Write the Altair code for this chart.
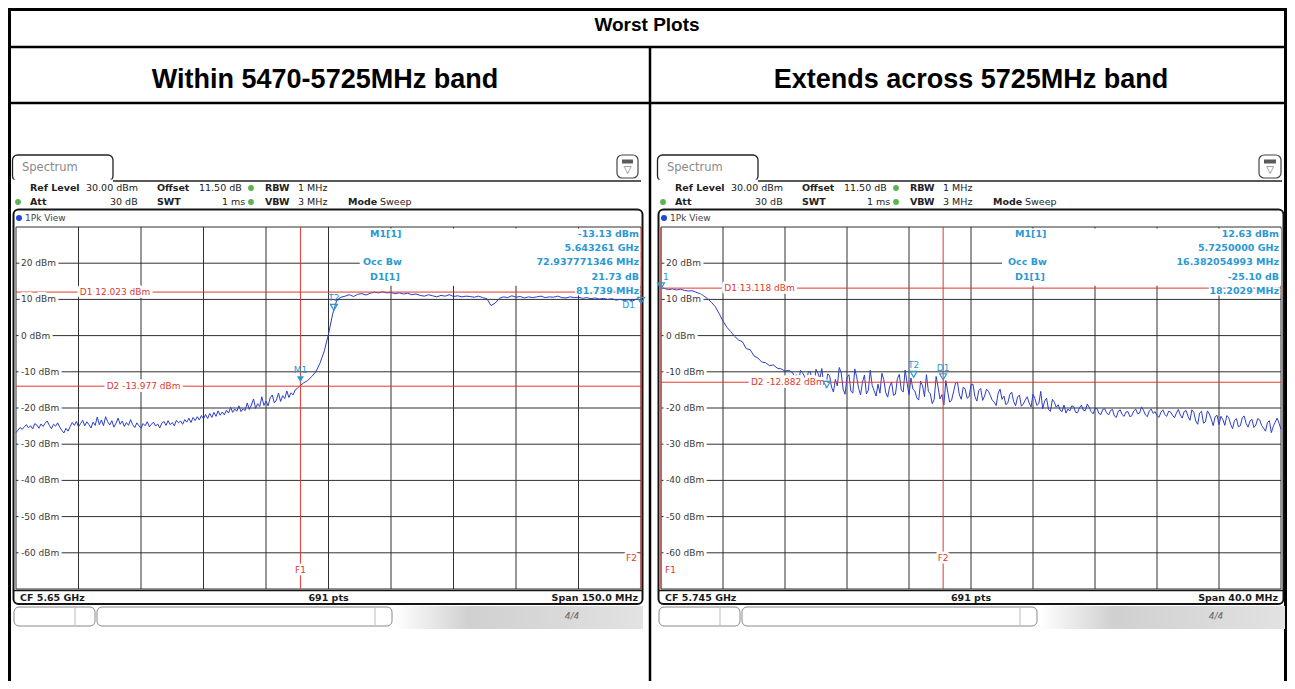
import altair as alt
import pandas as pd

# ---------------- values ----------------
# left plot: CF 5.65 GHz, span 150 MHz (5575 .. 5725 MHz), levels in dBm
left_start_mhz = 5575.0
left_stop_mhz = 5725.0
left_fine_step_mhz = 0.5            # 5575.0 .. 5643.0 MHz
left_fine_levels = [
    -26.8, -26.1, -25.4, -25.9, -25.2, -24.6, -25.5, -24.9, -25.8, -24.3,
    -24.7, -25.6, -24.4, -25.1, -24.2, -23.6, -24.8, -25.7, -24.5, -25.0,
    -24.1, -25.3, -26.2, -26.9, -25.6, -26.4, -25.1, -24.0, -24.8, -23.7,
    -25.2, -24.3, -23.4, -24.9, -23.8, -24.6, -25.5, -23.9, -24.8, -22.5,
    -24.6, -23.3, -24.9, -22.4, -23.8, -24.7, -23.5, -25.3, -24.2, -22.8,
    -24.5, -23.6, -25.1, -24.0, -24.8, -23.2, -24.6, -25.4, -24.1, -24.9,
    -25.6, -24.3, -24.9, -23.8, -25.2, -24.5, -23.9, -25.0, -24.4, -25.5,
    -24.2, -23.7, -24.8, -23.5, -24.6, -24.0, -24.9, -23.4, -24.1, -23.6,
    -24.5, -23.2, -23.9, -22.8, -24.0, -22.6, -23.5, -22.4, -23.3, -22.1,
    -23.0, -21.8, -22.9, -21.5, -22.6, -21.2, -22.3, -20.8, -22.0, -21.1,
    -21.9, -20.6, -21.4, -19.8, -21.2, -20.3, -20.9, -19.4, -21.0, -20.2,
    -20.7, -18.6, -20.4, -19.2, -17.5, -20.1, -18.8, -19.6, -16.9, -19.3,
    -18.1, -19.4, -17.2, -16.4, -18.6, -17.8, -15.9, -18.2, -16.6, -17.4,
    -15.3, -17.1, -15.8, -16.4, -15.0, -14.6, -14.0,
]
left_coarse_first_mhz = 5644.0
left_coarse_step_mhz = 1.0          # 5644 .. 5725 MHz
left_coarse_levels = [
    -13.1, -12.4, -11.3, -9.9, -7.5, -4.2, 0.4, 6.0, 9.8, 10.6,
    10.9, 11.3, 10.8, 11.4, 11.6, 11.2, 11.7, 12.0, 11.8, 12.1,
    11.8, 11.9, 11.6, 11.8, 11.5, 11.7, 11.3, 11.5, 11.1, 10.9,
    11.3, 11.0, 10.7, 11.1, 10.9, 11.3, 10.8, 11.0, 10.7, 10.9,
    10.8, 10.6, 10.9, 10.5, 10.2, 8.3, 9.0, 10.3, 10.7, 10.5,
    11.0, 10.6, 10.8, 10.4, 10.7, 10.5, 10.7, 10.9, 10.5, 10.7,
    10.6, 10.9, 10.5, 10.4, 10.7, 10.5, 10.6, 10.3, 10.5, 10.2,
    10.4, 10.1, 10.3, 10.0, 10.2, 9.8, 10.0, 9.7, 9.9, 9.6,
    10.1, 9.9,
]

# right plot: CF 5.745 GHz, span 40 MHz (5725 .. 5765 MHz)
right_start_mhz = 5725.0
right_stop_mhz = 5765.0
right_smooth_step_mhz = 0.25        # 5725.0 .. 5733.5 MHz
right_smooth_levels = [
    13.2, 13.0, 12.7, 12.9, 12.6, 12.8, 12.5, 12.3, 12.4, 12.0,
    11.6, 11.0, 10.2, 9.2, 8.0, 6.1, 4.0, 2.3, 1.1, -0.2,
    -1.2, -1.7, -3.6, -3.9, -5.6, -6.2, -7.3, -7.5, -8.3, -8.1,
    -9.0, -9.2, -9.8, -9.6, -10.3,
]
right_noisy_first_mhz = 5733.625
right_noisy_step_mhz = 0.125        # 5733.625 .. 5765.0 MHz
right_noisy_levels = [
    -11.6, -10.8, -12.9, -9.6, -10.2, -11.2, -13.1, -10.1, -9.9, -12.4,
    -13.7, -9.3, -10.4, -11.8, -9.1, -13.6, -14.5, -10.6, -11.0, -14.2,
    -15.6, -12.1, -13.9, -8.8, -10.3, -14.8, -16.2, -11.5, -10.8, -15.3,
    -15.9, -9.2, -11.4, -14.6, -16.4, -12.8, -10.9, -16.1, -15.1, -9.6,
    -13.8, -15.2, -16.7, -13.4, -15.9, -10.4, -12.2, -15.8, -17.0, -14.1,
    -12.8, -16.5, -16.2, -11.9, -10.7, -15.0, -15.6, -9.5, -13.1, -16.3,
    -11.7, -14.8, -15.3, -17.2, -17.8, -12.6, -13.9, -16.9, -10.8, -15.4,
    -16.1, -18.8, -17.6, -11.3, -14.2, -17.5, -16.3, -19.2, -12.4, -15.6,
    -18.4, -17.8, -15.5, -13.1, -12.9, -16.4, -17.6, -14.2, -14.8, -17.3,
    -16.9, -13.6, -13.4, -16.8, -18.1, -15.2, -14.6, -17.9, -16.7, -14.8,
    -15.4, -16.6, -17.9, -18.4, -19.3, -15.9, -14.8, -17.6, -16.7, -19.1,
    -18.6, -16.3, -15.6, -18.2, -19.4, -17.0, -16.4, -19.5, -18.9, -17.8,
    -16.9, -18.6, -19.7, -16.2, -17.4, -19.3, -18.8, -15.4, -20.2, -18.1,
    -17.3, -20.4, -20.9, -17.6, -18.4, -19.8, -19.1, -20.6, -21.0, -19.2,
    -21.4, -20.3, -20.8, -19.4, -19.6, -21.2, -21.3, -19.9, -19.2, -20.6,
    -20.7, -18.9, -19.8, -21.0, -21.6, -20.2, -20.1, -21.5, -21.8, -20.4,
    -20.2, -21.3, -21.9, -20.7, -20.4, -22.2, -22.6, -20.9, -20.5, -21.8,
    -22.3, -21.1, -21.0, -22.4, -22.1, -20.8, -20.3, -21.6, -21.4, -19.7,
    -20.6, -21.9, -22.4, -20.8, -20.3, -21.5, -21.0, -22.1, -22.6, -21.2,
    -20.5, -21.8, -22.3, -20.9, -21.1, -22.0, -22.7, -21.4, -20.4, -21.9,
    -22.8, -21.0, -20.7, -22.3, -23.4, -20.5, -21.2, -23.6, -24.5, -21.4,
    -20.9, -24.2, -23.8, -20.8, -21.6, -23.1, -24.9, -22.4, -22.0, -24.6,
    -22.3, -23.2, -24.8, -22.1, -22.6, -24.5, -25.7, -23.4, -22.9, -25.2,
    -24.9, -22.7, -22.2, -24.3, -25.3, -23.6, -23.1, -25.4, -24.7, -22.9,
    -23.3, -24.8, -25.6, -26.4, -24.0, -23.5, -26.8, -25.1, -23.9, -22.8,
    -24.2, -25.9,
]

grid_levels = [30, 20, 10, 0, -10, -20, -30, -40, -50, -60, -70]
label_levels = [20, 10, 0, -10, -20, -30, -40, -50, -60]

left_lines = {"D1": 12.023, "D2": -13.977, "F1": 5643.261, "F2": 5725.0}
right_lines = {"D1": 13.118, "D2": -12.882, "F1": 5725.0, "F2": 5743.2029}

# markers: names, frequency (MHz), level (dBm), filled, show label
left_markers_in = (["M1", "T2"], [5643.261, 5651.3], [-13.13, 6.7], [True, False], [True, True])
left_markers_edge = (["D1"], [5725.0], [8.6], [False], [True])
right_markers_in = (["T1", "T2", "D1"], [5735.7, 5741.3, 5743.2029], [-14.6, -11.8, -12.47],
                    [False, False, False], [False, True, True])
right_markers_edge = (["1"], [5725.0], [12.63], [False], [True])

table_labels = ["M1[1]", "", "Occ Bw", "D1[1]", ""]
left_table_values = ["-13.13 dBm", "5.643261 GHz", "72.937771346 MHz", "21.73 dB", "81.739 MHz"]
right_table_values = ["12.63 dBm", "5.7250000 GHz", "16.382054993 MHz", "-25.10 dB", "18.2029 MHz"]

left_footer = ["CF 5.65 GHz", "691 pts", "Span 150.0 MHz"]
right_footer = ["CF 5.745 GHz", "691 pts", "Span 40.0 MHz"]

title_text = "Worst Plots"
column_titles = ["Within 5470-5725MHz band", "Extends across 5725MHz band"]

header_row1 = [("Ref Level", "bold"), ("30.00 dBm", "normal"), ("Offset", "bold"), ("11.50 dB", "normal"),
               ("RBW", "bold"), ("1 MHz", "normal")]
header_row2 = [("Att", "bold"), ("30 dB", "normal"), ("SWT", "bold"), ("1 ms", "normal"),
               ("VBW", "bold"), ("3 MHz", "normal"), ("Mode", "bold"), ("Sweep", "normal")]

# ---------------- layout (pixels of the 1295x689 page) ----------------
W, H, M = 1279, 673, 8
GY0, GY1 = 227.0, 589.0
SANS = "DejaVu Sans"
ARIAL = "Liberation Sans"
TRACE = "#2c3ec9"
RED = "#e0392f"
CYAN = "#2b98d4"
GRID = "#303030"

row1_x = [30, 86, 157, 199, 265, 298]
row2_x = [30, 110, 157, 222, 265, 298, 348, 380]

PX = alt.Scale(domain=[M, M + W], range=[0, W], nice=False, zero=False)
PY = alt.Scale(domain=[M, M + H], range=[0, H], nice=False, zero=False)

layers = []


def rules(df, xs=PX, ys=PY, **kw):
    layers.append(alt.Chart(df).mark_rule(**kw).encode(
        x=alt.X("x:Q", scale=xs, axis=None), x2="x2:Q",
        y=alt.Y("y:Q", scale=ys, axis=None), y2="y2:Q",
        color=alt.Color("c:N", scale=None),
        strokeWidth=alt.StrokeWidth("w:Q", scale=None)))


def rects(df, xs=PX, ys=PY, **kw):
    layers.append(alt.Chart(df).mark_rect(**kw).encode(
        x=alt.X("x:Q", scale=xs, axis=None), x2="x2:Q",
        y=alt.Y("y:Q", scale=ys, axis=None), y2="y2:Q",
        fill=alt.Fill("fill:N", scale=None),
        stroke=alt.Stroke("stroke:N", scale=None),
        strokeWidth=alt.StrokeWidth("w:Q", scale=None)))


def texts(df, xs=PX, ys=PY, font=SANS, weight="normal", align="left", halo=0, **kw):
    if len(df) == 0:
        return
    enc = dict(x=alt.X("x:Q", scale=xs, axis=None), y=alt.Y("y:Q", scale=ys, axis=None),
               text="t:N", size=alt.Size("s:Q", scale=None))
    if halo:
        layers.append(alt.Chart(df).mark_text(font=font, fontWeight=weight, align=align, baseline="middle",
                                              stroke="white", strokeWidth=halo, strokeJoin="round",
                                              fill="white", **kw).encode(**enc))
    layers.append(alt.Chart(df).mark_text(font=font, fontWeight=weight, align=align, baseline="middle",
                                          **kw).encode(color=alt.Color("c:N", scale=None), **enc))


def dots(df, xs=PX, ys=PY, **kw):
    layers.append(alt.Chart(df).mark_point(**kw).encode(
        x=alt.X("x:Q", scale=xs, axis=None), y=alt.Y("y:Q", scale=ys, axis=None),
        color=alt.Color("c:N", scale=None), size=alt.Size("s:Q", scale=None)))


R_COLS = ["x", "x2", "y", "y2", "c", "w"]
B_COLS = ["x", "x2", "y", "y2", "fill", "stroke", "w"]
T_COLS = ["t", "x", "y", "s", "c"]

# ---------------- table ----------------
rules(pd.DataFrame([
    [9.5, 9.5, 8, 681, "#000", 3],
    [1285.5, 1285.5, 8, 681, "#000", 3],
    [8, 1287, 9.5, 9.5, "#000", 3],
    [8, 1287, 47, 47, "#000", 2.5],
    [8, 1287, 103, 103, "#000", 2.5],
    [650, 650, 47, 681, "#000", 2.5],
], columns=R_COLS))

texts(pd.DataFrame([[title_text, 647, 25, 19, "#000"]], columns=T_COLS), font=ARIAL, weight="bold", align="center")
texts(pd.DataFrame([[column_titles[0], 325, 80, 27, "#000"],
                    [column_titles[1], 971, 80, 27, "#000"]], columns=T_COLS),
      font=ARIAL, weight="bold", align="center")

# ---------------- analyzer panels ----------------
panels = [
    dict(dx=0, f0=left_start_mhz, f1=left_stop_mhz, gx0=16, gx1=641, fr1=642.5, icon0=617, icon1=638,
         rt=639, bar0=492, bar1=556, band0=395, band1=643, line1=641, lines=left_lines,
         mk_in=left_markers_in, mk_edge=left_markers_edge, edge_align="right", vals=left_table_values,
         foot=left_footer, f1_align="center", f2_align="right"),
    dict(dx=645, f0=right_start_mhz, f1=right_stop_mhz, gx0=661, gx1=1281, fr1=1283.5, icon0=1259, icon1=1281,
         rt=1279, bar0=1135, bar1=1200, band0=1040, band1=1285, line1=1282, lines=right_lines,
         mk_in=right_markers_in, mk_edge=right_markers_edge, edge_align="left", vals=right_table_values,
         foot=right_footer, f1_align="left", f2_align="center"),
]

traces = [
    ([left_start_mhz + left_fine_step_mhz * i for i in range(len(left_fine_levels))]
     + [left_coarse_first_mhz + left_coarse_step_mhz * i for i in range(len(left_coarse_levels))],
     left_fine_levels + left_coarse_levels),
    ([right_start_mhz + right_smooth_step_mhz * i for i in range(len(right_smooth_levels))]
     + [right_noisy_first_mhz + right_noisy_step_mhz * i for i in range(len(right_noisy_levels))],
     right_smooth_levels + right_noisy_levels),
]

for P, (tf, tl) in zip(panels, traces):
    dx = P["dx"]
    x0 = 13.5 + dx
    # chrome: frame, tab, icon, buttons
    rects(pd.DataFrame([
        [x0, P["fr1"], 209.5, 604, "white", "#151515", 2],
        [12.5 + dx, 113 + dx, 155, 181, "white", "#222", 1.3],
        [P["icon0"], P["icon1"], 155, 178, "white", "#444", 1.2],
        [14 + dx, 95 + dx, 607, 626, "white", "#8a8a8a", 1],
        [97 + dx, 392 + dx, 607, 626, "white", "#8a8a8a", 1],
    ], columns=B_COLS), cornerRadius=5)
    rects(pd.DataFrame([
        [13.3 + dx, 112.2 + dx, 179.5, 185, "white", "transparent", 0],
        [P["icon0"] + 5, P["icon1"] - 5, 159.5, 163.5, "#5a5a5a", "transparent", 0],
        [P["bar0"], P["bar1"] - 14, 612, 621, "#6d6d6d", "transparent", 0],
        [P["bar1"] - 14, P["bar1"], 612, 621, "#2e2e2e", "transparent", 0],
    ], columns=B_COLS))
    layers.append(alt.Chart(pd.DataFrame([[P["band0"], P["band1"], 606, 629]], columns=["x", "x2", "y", "y2"]))
                  .mark_rect(fill=alt.LinearGradient(gradient="linear", x1=0, x2=1, y1=0, y2=0, stops=[
                      alt.GradientStop(color="#ffffff", offset=0),
                      alt.GradientStop(color="#d0d0d0", offset=0.3),
                      alt.GradientStop(color="#e2e2e2", offset=1)]))
                  .encode(x=alt.X("x:Q", scale=PX, axis=None), x2="x2:Q",
                          y=alt.Y("y:Q", scale=PY, axis=None), y2="y2:Q"))
    rules(pd.DataFrame([
        [113 + dx, P["line1"], 181, 181, "#222", 1.3],
        [75 + dx, 75 + dx, 608, 625, "#bbbbbb", 1],
        [375 + dx, 375 + dx, 608, 625, "#bbbbbb", 1],
        [x0, P["fr1"], 590.5, 590.5, "#151515", 1.5],
    ], columns=R_COLS))
    texts(pd.DataFrame([["▽", (P["icon0"] + P["icon1"]) / 2, 170, 10, "#555"],
                        ["4/4", P["bar1"] + 16, 616, 9, "#666"]], columns=T_COLS), align="center",
          fontStyle="italic")
    texts(pd.DataFrame([["Spectrum", 22 + dx, 168, 11.5, "#8a8a8a"],
                        ["1Pk View", 25 + dx, 218, 9, "#444"]], columns=T_COLS))
    # header rows
    for wgt in ["bold", "normal"]:
        rows = [[t, xx + dx, 188, 9.5, "#222"] for (t, w_), xx in zip(header_row1, row1_x) if w_ == wgt]
        rows += [[t, xx + dx, 202, 9.5, "#222"] for (t, w_), xx in zip(header_row2, row2_x) if w_ == wgt]
        texts(pd.DataFrame(rows, columns=T_COLS), weight=wgt)
    dots(pd.DataFrame([[251 + dx, 188, "#5cb34f", 34], [18 + dx, 202, "#5cb34f", 34],
                       [251 + dx, 202, "#5cb34f", 34], [19 + dx, 218, "#2346d8", 36]],
                      columns=["x", "y", "c", "s"]), filled=True, opacity=1, shape="circle")

    # panel scales
    xs = alt.Scale(domain=[P["f0"], P["f1"]], range=[P["gx0"] - M, P["gx1"] - M], nice=False, zero=False)
    ys = alt.Scale(domain=[-70, 30], range=[GY1 - M, GY0 - M], nice=False, zero=False)
    span = P["f1"] - P["f0"]

    # graticule
    vf = [P["f0"] + span * k / 10 for k in range(11)]
    rules(pd.DataFrame([[f, f, -70, 30, GRID, 1] for f in vf], columns=R_COLS), xs, ys)
    rules(pd.DataFrame([[P["f0"], P["f1"], lv, lv, GRID, 1] for lv in grid_levels], columns=R_COLS), xs, ys)

    # opaque marker-table box
    rects(pd.DataFrame([[P["f0"] + 0.55 * span, P["f1"], 29.6, 13.8, "white", "transparent", 0]],
                       columns=B_COLS), xs, ys)

    # trace
    layers.append(alt.Chart(pd.DataFrame({"f": tf, "lv": tl})).mark_line(color=TRACE, strokeWidth=1).encode(
        x=alt.X("f:Q", scale=xs, axis=None), y=alt.Y("lv:Q", scale=ys, axis=None)))

    # display lines and frequency lines
    L = P["lines"]
    rules(pd.DataFrame([
        [P["f0"], P["f1"], L["D1"], L["D1"], RED, 1],
        [P["f0"], P["f1"], L["D2"], L["D2"], RED, 1],
        [L["F1"], L["F1"], -70, 30, RED, 1],
        [L["F2"], L["F2"], -70, 30, RED, 1],
    ], columns=R_COLS), xs, ys)

    # y labels and line labels (white halo hides the lines behind them)
    texts(pd.DataFrame([[f"{lv} dBm", P["f0"], lv, 9, "#3a3a3a"] for lv in label_levels], columns=T_COLS),
          xs, ys, halo=6, dx=5)
    texts(pd.DataFrame([[f"D1  {L['D1']:.3f} dBm", P["f0"] + 0.102 * span, L["D1"], 9, RED],
                        [f"D2  {L['D2']:.3f} dBm", P["f0"] + 0.145 * span, L["D2"], 9, RED]],
                       columns=T_COLS), xs, ys, halo=6)
    texts(pd.DataFrame([["F1", L["F1"], -64.7, 9, RED]], columns=T_COLS), xs, ys,
          align=P["f1_align"], halo=5, dx=(4 if P["f1_align"] == "left" else 0))
    texts(pd.DataFrame([["F2", L["F2"], -61.4, 9, RED]], columns=T_COLS), xs, ys,
          align=P["f2_align"], halo=5, dx=(-4 if P["f2_align"] == "right" else 0))

    # markers
    tri = "M-1.75,-3.5L1.75,-3.5L0,-0.5Z"
    for group, al in [(P["mk_in"], "center"), (P["mk_edge"], P["edge_align"])]:
        names, fr, lv, filled, show = group
        for want in [True, False]:
            rows = [[fr[i], lv[i], CYAN, 16] for i in range(len(names)) if filled[i] == want]
            if rows:
                dots(pd.DataFrame(rows, columns=["x", "y", "c", "s"]), xs, ys, shape=tri, filled=want,
                     opacity=1, strokeWidth=1.2)
        lab = pd.DataFrame([[names[i], fr[i], lv[i], 9, CYAN] for i in range(len(names)) if show[i]],
                           columns=T_COLS)
        if al == "right":
            texts(lab, xs, ys, align="right", dy=1, dx=-6)
        elif al == "left":
            texts(lab, xs, ys, align="left", dy=-13, dx=2)
        else:
            texts(lab, xs, ys, align="center", dy=-13)

    # marker table
    ty = [234, 248, 262, 277, 291]
    lab_x = [370, 370, 363, 370, 370]
    texts(pd.DataFrame([[table_labels[i], lab_x[i] + dx, ty[i], 9.5, CYAN] for i in range(5) if table_labels[i]],
                       columns=T_COLS), weight="bold")
    texts(pd.DataFrame([[P["vals"][i], P["rt"], ty[i], 9.5, CYAN] for i in range(5)], columns=T_COLS),
          weight="bold", align="right", halo=3)

    # footer
    texts(pd.DataFrame([[P["foot"][0], 20 + dx, 597.5, 9.5, "#1a1a1a"]], columns=T_COLS), weight="bold")
    texts(pd.DataFrame([[P["foot"][1], (P["gx0"] + P["gx1"]) / 2, 597.5, 9.5, "#1a1a1a"]], columns=T_COLS),
          weight="bold", align="center")
    texts(pd.DataFrame([[P["foot"][2], P["rt"] - 1, 597.5, 9.5, "#1a1a1a"]], columns=T_COLS),
          weight="bold", align="right")

chart = (alt.layer(*layers)
         .resolve_scale(x="independent", y="independent")
         .properties(width=W, height=H, padding=0, autosize="none", background="white")
         .configure_view(stroke=None))

chart.save("out.html", embed_options={"renderer": "svg", "actions": False})
